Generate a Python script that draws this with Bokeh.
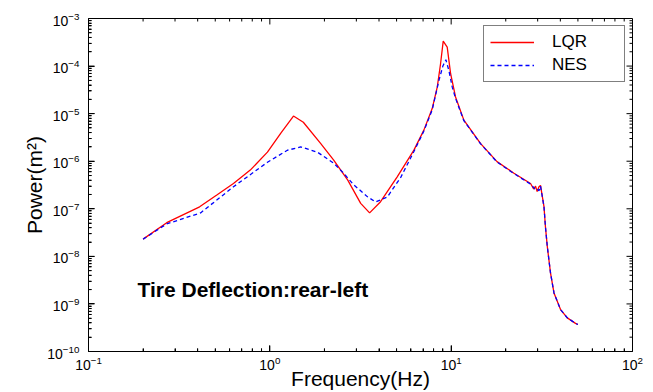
from bokeh.plotting import figure
from bokeh.models import Range1d, FixedTicker, LogTickFormatter, Label
from bokeh.embed import file_html
from bokeh.resources import INLINE

# Data
f_lqr = [0.2, 0.27, 0.41, 0.51, 0.63, 0.78, 0.97, 1.15, 1.35, 1.53, 1.9, 2.25, 2.69, 3.17, 3.55,
         4.08, 5.04, 6.23, 7.07, 7.86, 8.38, 8.74, 9.04, 9.51, 9.93, 10.57, 11.75, 14.5, 17.9,
         22.2, 27.4, 28.5, 29.2, 29.8, 30.5, 31.1, 32.5, 33.1, 33.9, 35.3, 36.9, 40.1, 43.7, 48.5, 50]
p_lqr = [2.3e-8, 5.1e-8, 1.1e-7, 1.95e-7, 3.4e-7, 6.5e-7, 1.55e-6, 3.9e-6, 8.9e-6, 6.6e-6, 2.4e-6,
         1.05e-6, 4.0e-7, 1.3e-7, 8.2e-8, 1.41e-7, 4.7e-7, 1.71e-6, 4.5e-6, 1.28e-5, 3.6e-5, 1.12e-4,
         3.35e-4, 2.5e-4, 6.9e-5, 2.24e-5, 7.3e-6, 2.37e-6, 9.8e-7, 5.6e-7, 3.4e-7, 2.6e-7, 3.0e-7,
         2.3e-7, 2.9e-7, 3.1e-7, 1.11e-7, 4.2e-8, 1.6e-8, 4.5e-9, 1.7e-9, 7.6e-10, 5.1e-10, 3.9e-10, 3.7e-10]

f_nes = [0.2, 0.27, 0.415, 0.63, 0.97, 1.25, 1.48, 1.83, 2.25, 2.52, 2.9, 3.46, 3.83, 4.45, 5.26,
         6.23, 7.07, 7.86, 8.56, 9.0, 9.35, 9.71, 10.14, 10.57, 11.75, 14.5, 17.9, 22.2, 27.4, 28.5,
         29.2, 29.8, 30.5, 31.1, 32.5, 33.1, 33.9, 35.3, 36.9, 40.1, 43.7, 48.5, 50]
p_nes = [2.3e-8, 4.8e-8, 8.2e-8, 2.9e-7, 9.5e-7, 1.7e-6, 2.0e-6, 1.55e-6, 9.1e-7, 5.9e-7, 3.2e-7,
         1.78e-7, 1.39e-7, 1.78e-7, 4.5e-7, 1.6e-6, 4.3e-6, 1.2e-5, 5.0e-5, 1.0e-4, 1.36e-4, 8.1e-5,
         3.6e-5, 2.1e-5, 7.1e-6, 2.35e-6, 9.6e-7, 5.5e-7, 3.3e-7, 2.8e-7, 2.5e-7, 2.6e-7, 2.4e-7,
         3.0e-7, 1.1e-7, 4.2e-8, 1.6e-8, 4.5e-9, 1.7e-9, 7.6e-10, 5.1e-10, 3.9e-10, 3.7e-10]

x_decades = [-1, 0, 1, 2]
y_decades = [-10, -9, -8, -7, -6, -5, -4, -3]

FONT = "Liberation Sans"

x_major = [10.0 ** k for k in x_decades]
y_major = [10.0 ** k for k in y_decades]
x_minor = [m * 10.0 ** k for k in x_decades[:-1] for m in range(2, 10)]
y_minor = [m * 10.0 ** k for k in y_decades[:-1] for m in range(2, 10)]

W, H = 653, 392
BL, BR, BT, BB = 88, 21, 18, 40

p = figure(width=W, height=H, x_axis_type="log", y_axis_type="log",
           x_range=Range1d(x_major[0], x_major[-1]), y_range=Range1d(y_major[0], y_major[-1]),
           output_backend="svg", toolbar_location=None,
           min_border_left=BL, min_border_right=BR, min_border_top=BT, min_border_bottom=BB)
p.background_fill_color = "white"
p.border_fill_color = "white"
p.outline_line_color = "black"
p.outline_line_width = 1
p.grid.visible = False

for ax, tk, mn in ((p.xaxis[0], x_major, x_minor), (p.yaxis[0], y_major, y_minor)):
    ax.ticker = FixedTicker(ticks=tk, minor_ticks=mn)
    ax.formatter = LogTickFormatter()
    ax.major_tick_in = 6
    ax.major_tick_out = 0
    ax.minor_tick_in = 3
    ax.minor_tick_out = 0
    ax.major_tick_line_color = "black"
    ax.minor_tick_line_color = "black"
    ax.axis_line_color = "black"
    ax.major_label_text_font = FONT
    ax.major_label_text_font_size = "14px"
    ax.major_label_text_color = "black"
    ax.axis_label_text_font = FONT
    ax.axis_label_text_font_style = "normal"
    ax.axis_label_text_color = "black"
    ax.axis_label_text_font_size = "21px"

xa = p.xaxis[0]
ya = p.yaxis[0]
xa.major_label_standoff = 4
xa.axis_label = "Frequency(Hz)"
xa.axis_label_standoff = -6
ya.major_label_standoff = 9
ya.axis_label = "Power(m²)"
ya.axis_label_standoff = -2

# inward tick marks on all four sides
xmin, xmax = x_major[0], x_major[-1]
ymin, ymax = y_major[0], y_major[-1]
frame_w = W - BL - BR
frame_h = H - BT - BB
xk = 10.0 ** ((x_decades[-1] - x_decades[0]) / frame_w)   # factor per pixel along x
yk = 10.0 ** ((y_decades[-1] - y_decades[0]) / frame_h)   # factor per pixel along y

tick_xs, tick_ys = [], []
for xs, length in ((x_major[1:-1], 6), (x_minor, 3)):
    for x in xs:
        tick_xs += [[x, x], [x, x]]
        tick_ys += [[ymin, ymin * yk ** length], [ymax, ymax / yk ** length]]
for ys, length in ((y_major[1:-1], 6), (y_minor, 3)):
    for y in ys:
        tick_xs += [[xmin, xmin * xk ** length], [xmax, xmax / xk ** length]]
        tick_ys += [[y, y], [y, y]]
p.multi_line(tick_xs, tick_ys, line_color="black", line_width=1)

p.line(f_lqr, p_lqr, line_color="#ff0000", line_width=1.3, legend_label="LQR")
p.line(f_nes, p_nes, line_color="#0000ff", line_width=1.3, line_dash="4 3", legend_label="NES")

lg = p.legend[0]
lg.location = "top_right"
lg.margin = 7
lg.padding = 6
lg.spacing = 3
lg.glyph_width = 44
lg.glyph_height = 18
lg.label_height = 18
lg.label_width = 66
lg.label_standoff = 18
lg.label_text_font = FONT
lg.label_text_font_size = "17px"
lg.label_text_color = "black"
lg.border_line_color = "black"
lg.border_line_width = 1
lg.background_fill_alpha = 1

p.add_layout(Label(x=49, y=62, x_units="screen", y_units="screen", text="Tire Deflection:rear-left",
                   text_font=FONT, text_font_size="21px", text_font_style="bold",
                   text_align="left", text_baseline="middle", text_color="black"))

open("out.html", "w").write(file_html(p, INLINE))
